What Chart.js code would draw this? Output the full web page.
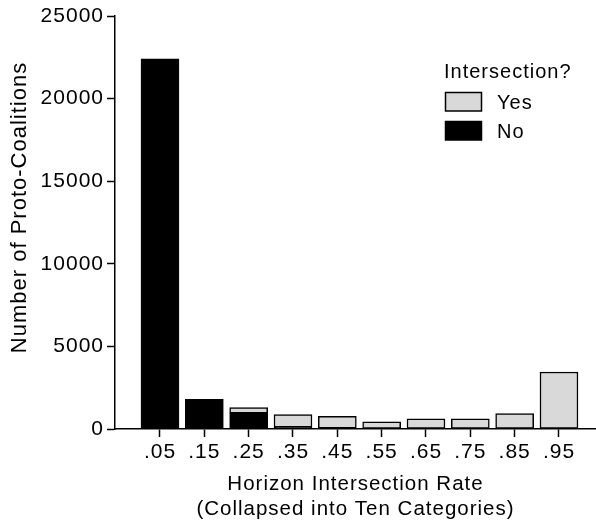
<!DOCTYPE html>
<html>
<head>
<meta charset="utf-8">
<script src="https://cdn.jsdelivr.net/npm/chart.js@4.4.1/dist/chart.umd.min.js"></script>
<style>
  html, body { margin: 0; padding: 0; background: #fff; }
  #wrap { width: 596px; height: 525px; }
</style>
</head>
<body>
<div id="wrap"><canvas id="chart" width="596" height="525"></canvas></div>
<script>
// Horizon intersection rate, collapsed into ten categories (bin midpoints)
const rateMidpoints = [0.05, 0.15, 0.25, 0.35, 0.45, 0.55, 0.65, 0.75, 0.85, 0.95];
const rateLabels = ['.05', '.15', '.25', '.35', '.45', '.55', '.65', '.75', '.85', '.95'];

// Number of proto-coalitions per category, split by intersection
const noCounts  = [22400, 1800, 960, 110, 50, 0, 0, 0, 0, 0];
const yesCounts = [0, 0, 340, 770, 720, 440, 620, 610, 940, 3450];

const yTickValues = [0, 5000, 10000, 15000, 20000, 25000];

const FONT = "'Liberation Sans', Arial, Helvetica, sans-serif";
Chart.defaults.font.family = FONT;
Chart.defaults.color = '#000';

const toPoints = (vals) => vals.map((v, i) => ({ x: rateMidpoints[i], y: v }));

// slightly open letter spacing for all chart text
const spacing = {
  id: 'spacing',
  beforeUpdate(chart) { chart.ctx.letterSpacing = '1px'; },
  beforeDraw(chart) { chart.ctx.letterSpacing = '1px'; }
};

// vertical axis title
const yTitle = {
  id: 'yTitle',
  afterDraw(chart) {
    const ctx = chart.ctx;
    ctx.save();
    ctx.letterSpacing = '1px';
    ctx.font = '22px ' + FONT;
    ctx.fillStyle = '#000';
    ctx.textAlign = 'center';
    ctx.textBaseline = 'alphabetic';
    ctx.translate(25.5, 207.5);
    ctx.rotate(-Math.PI / 2);
    ctx.fillText('Number of Proto-Coalitions', 0, 0);
    ctx.restore();
  }
};

// boxed key in the upper right
const keyBox = {
  id: 'keyBox',
  afterDraw(chart) {
    const ctx = chart.ctx;
    ctx.save();
    ctx.letterSpacing = '1px';
    ctx.font = '20px ' + FONT;
    ctx.fillStyle = '#000';
    ctx.textAlign = 'left';
    ctx.textBaseline = 'alphabetic';
    ctx.fillText('Intersection?', 444, 77.5);
    const items = chart.data.datasets.slice().reverse();
    items.forEach((ds, i) => {
      const top = 92.5 + i * 29;
      ctx.fillStyle = ds.backgroundColor;
      ctx.fillRect(445.5, top, 36, 18.5);
      ctx.strokeStyle = '#000';
      ctx.lineWidth = 1.5;
      ctx.strokeRect(445.5, top, 36, 18.5);
      ctx.fillStyle = '#000';
      ctx.fillText(ds.label, 497, top + 16);
    });
    ctx.restore();
  }
};

const gridX = {
  display: true,
  offset: false,
  drawOnChartArea: false,
  drawTicks: true,
  tickLength: 8,
  tickWidth: 1.5,
  tickColor: '#000'
};

const gridY = {
  display: true,
  drawOnChartArea: false,
  drawTicks: true,
  tickLength: 8,
  tickWidth: 1.5,
  tickColor: '#000'
};

new Chart(document.getElementById('chart'), {
  type: 'bar',
  data: {
    datasets: [
      {
        label: 'No',
        data: toPoints(noCounts),
        backgroundColor: '#000000',
        borderColor: '#000000',
        borderWidth: 1.5,
        borderSkipped: false,
        barThickness: 38,
        stack: 'total'
      },
      {
        label: 'Yes',
        data: toPoints(yesCounts),
        backgroundColor: '#d9d9d9',
        borderColor: '#000000',
        borderWidth: 1.5,
        borderSkipped: false,
        barThickness: 38,
        stack: 'total'
      }
    ]
  },
  options: {
    responsive: false,
    animation: false,
    devicePixelRatio: 1,
    layout: { padding: { top: 16, right: 0, bottom: 0, left: 0 } },
    plugins: {
      legend: { display: false },
      tooltip: { enabled: false }
    },
    scales: {
      x: {
        type: 'linear',
        offset: false,
        bounds: 'data',
        min: -0.0515,
        max: 1.0335,
        afterBuildTicks: (axis) => { axis.ticks = rateMidpoints.map(v => ({ value: v })); },
        afterFit: (axis) => { axis.height = 96; },
        ticks: {
          autoSkip: false,
          maxRotation: 0,
          padding: 3,
          font: { size: 21 },
          color: '#000',
          callback: (value, index) => rateLabels[index]
        },
        grid: gridX,
        border: { display: true, color: '#000', width: 1.5 },
        title: {
          display: true,
          text: ['Horizon Intersection Rate', '(Collapsed into Ten Categories)'],
          font: { size: 20.5, lineHeight: 1.18 },
          color: '#000',
          padding: { top: 0, bottom: 4 }
        }
      },
      y: {
        type: 'linear',
        stacked: true,
        min: 0,
        max: 25000,
        afterBuildTicks: (axis) => { axis.ticks = yTickValues.map(v => ({ value: v })); },
        afterFit: (axis) => { axis.width = 115; },
        ticks: {
          padding: 3,
          font: { size: 21 },
          color: '#000',
          callback: (value) => String(value)
        },
        grid: gridY,
        border: { display: true, color: '#000', width: 1.5 }
      }
    }
  },
  plugins: [spacing, yTitle, keyBox]
});
</script>
</body>
</html>
